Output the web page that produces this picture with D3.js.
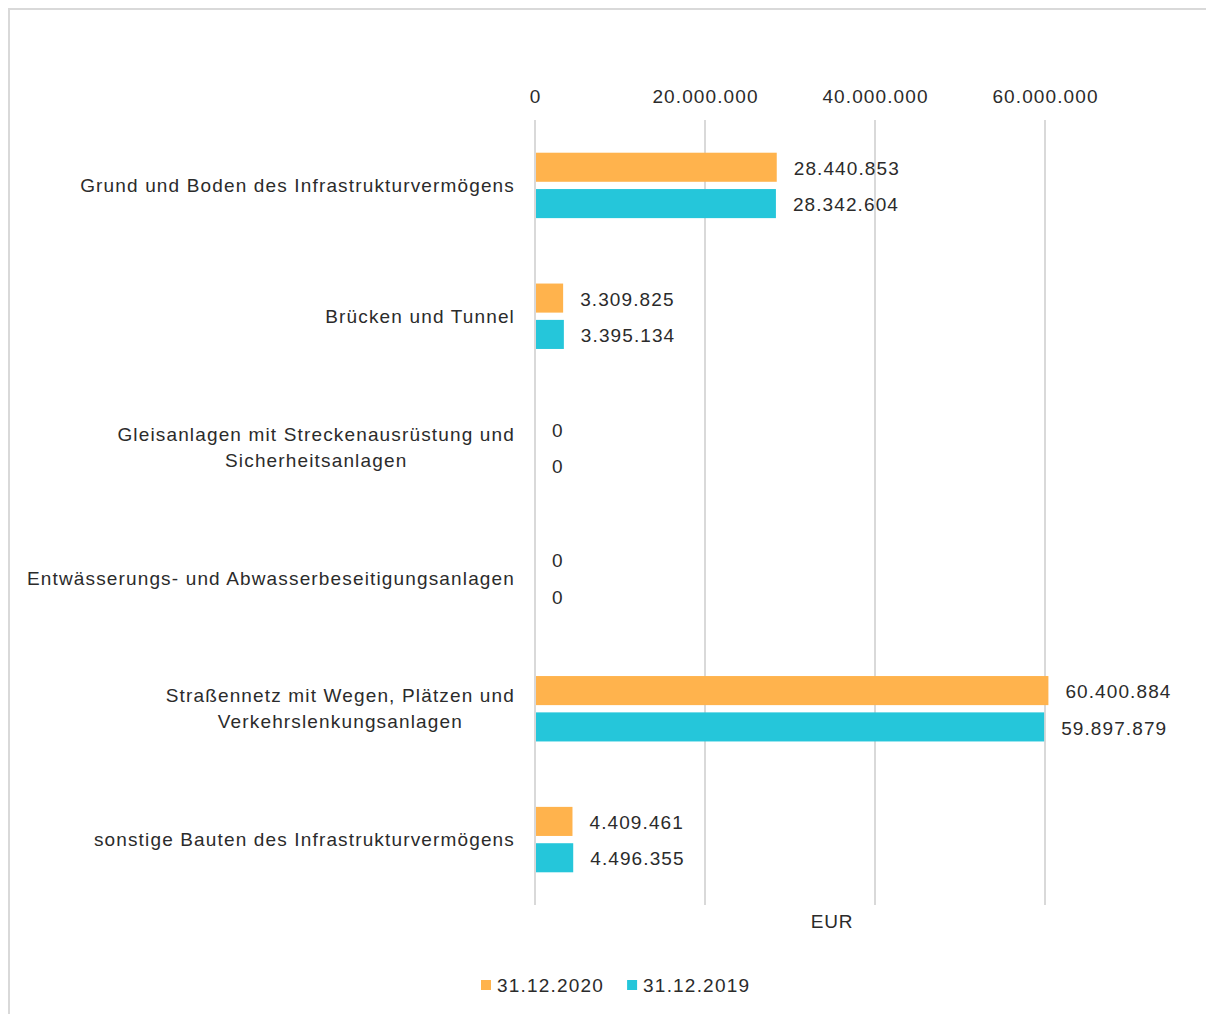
<!DOCTYPE html>
<html>
<head>
<meta charset="utf-8">
<title>Infrastrukturvermögen</title>
<script src="https://d3js.org/d3.v7.min.js"></script>
<style>
body { margin: 0; background: #fff; }
text { font-family: "Liberation Sans", Arial, sans-serif; fill: #2b2b2b; }
.grid line { stroke: #d9d9d9; stroke-width: 2px; }
</style>
</head>
<body>
<div id="chart"></div>
<script>

// data
var categories = [
  ["Grund und Boden des Infrastrukturvermögens"],
  ["Brücken und Tunnel"],
  ["Gleisanlagen mit Streckenausrüstung und", "Sicherheitsanlagen"],
  ["Entwässerungs- und Abwasserbeseitigungsanlagen"],
  ["Straßennetz mit Wegen, Plätzen und", "Verkehrslenkungsanlagen"],
  ["sonstige Bauten des Infrastrukturvermögens"]
];
var series = ["31.12.2020", "31.12.2019"];
var values2020 = [28440853, 3309825, 0, 0, 60400884, 4409461];
var values2019 = [28342604, 3395134, 0, 0, 59897879, 4496355];
var xTicks = [0, 20000000, 40000000, 60000000];
var colors = ["#ffb34d", "#25c6da"];

var W = 1206, H = 1014;
var plotLeft = 535, plotTop = 120, plotBottom = 905;

var fmt = function(v) {
  return String(v).replace(/\B(?=(\d{3})+(?!\d))/g, ".");
};

var svg = d3.select("#chart").append("svg")
    .attr("width", W)
    .attr("height", H);

// outer frame of the chart area
svg.append("rect")
    .attr("x", 9).attr("y", 9)
    .attr("width", W + 20).attr("height", H + 20)
    .attr("fill", "none")
    .attr("stroke", "#d9d9d9")
    .attr("stroke-width", 2);

var x = d3.scaleLinear().domain([0, 60000000]).range([plotLeft, 1045]);

var y = d3.scaleBand()
    .domain(d3.range(categories.length))
    .range([plotTop, plotBottom])
    .paddingInner(0.5)
    .paddingOuter(0.25);

var ySub = d3.scaleBand()
    .domain(series)
    .range([0, y.bandwidth()])
    .paddingInner(0.2);

// grid lines
svg.append("g").attr("class", "grid")
  .selectAll("line")
  .data(xTicks)
  .enter().append("line")
    .attr("x1", function(d) { return x(d); })
    .attr("x2", function(d) { return x(d); })
    .attr("y1", plotTop)
    .attr("y2", plotBottom);

// top axis labels
var xAxis = svg.append("g")
    .attr("transform", "translate(0," + (plotTop - 17) + ")")
    .call(d3.axisTop(x).tickValues(xTicks).tickSize(0).tickFormat(fmt));
xAxis.select(".domain").remove();
xAxis.selectAll("text")
    .attr("dy", 0)
    .attr("y", 0)
    .style("font-size", "19px")
    .style("letter-spacing", "1.1px")
    .style("font-family", "'Liberation Sans', Arial, sans-serif")
    .attr("fill", "#2b2b2b");

// bars
var rows = categories.map(function(c, i) {
  return [
    {s: series[0], v: values2020[i], c: colors[0]},
    {s: series[1], v: values2019[i], c: colors[1]}
  ];
});

var groups = svg.selectAll(".grp")
  .data(rows)
  .enter().append("g")
    .attr("class", "grp")
    .attr("transform", function(d, i) { return "translate(0," + y(i) + ")"; });

groups.selectAll("rect")
  .data(function(d) { return d; })
  .enter().append("rect")
    .attr("x", x(0) + 1)
    .attr("y", function(d) { return ySub(d.s); })
    .attr("height", ySub.bandwidth())
    .attr("width", function(d) { return Math.max(0, x(d.v) - x(0) - 1); })
    .attr("fill", function(d) { return d.c; });

groups.selectAll("text")
  .data(function(d) { return d; })
  .enter().append("text")
    .attr("x", function(d) { return x(d.v) + 17; })
    .attr("y", function(d) { return ySub(d.s) + ySub.bandwidth() / 2 + 1; })
    .attr("dy", "0.35em")
    .style("font-size", "19px")
    .style("letter-spacing", "1.1px")
    .text(function(d) { return fmt(d.v); });

// category labels, lines centred on each other, block right aligned
categories.forEach(function(lines, i) {
  var g = svg.append("g");
  var cy = y(i) + y.bandwidth() / 2;
  var lh = 26;
  var ts = lines.map(function(l, k) {
    return g.append("text")
      .attr("y", cy + (k - (lines.length - 1) / 2) * lh)
      .attr("dy", "0.35em")
      .style("font-size", "19px")
      .style("letter-spacing", "1.15px")
      .text(l);
  });
  var maxW = d3.max(ts, function(t) { return t.node().getComputedTextLength(); });
  ts.forEach(function(t) {
    t.attr("x", 515 - maxW / 2).attr("text-anchor", "middle");
  });
});

// axis title
svg.append("text")
    .attr("x", 832)
    .attr("y", 921)
    .attr("dy", "0.35em")
    .attr("text-anchor", "middle")
    .style("font-size", "19px")
    .style("letter-spacing", "0.8px")
    .text("EUR");

// legend
var legend = svg.append("g").attr("transform", "translate(481,985)");
var lx = 0;
series.forEach(function(s, i) {
  legend.append("rect")
      .attr("x", lx).attr("y", -5)
      .attr("width", 10).attr("height", 10)
      .attr("fill", colors[i]);
  var t = legend.append("text")
      .attr("x", lx + 16)
      .attr("dy", "0.35em")
      .style("font-size", "19px")
      .style("letter-spacing", "1.2px")
      .text(s);
  lx += 16 + t.node().getComputedTextLength() + 23;
});

</script>
</body>
</html>
